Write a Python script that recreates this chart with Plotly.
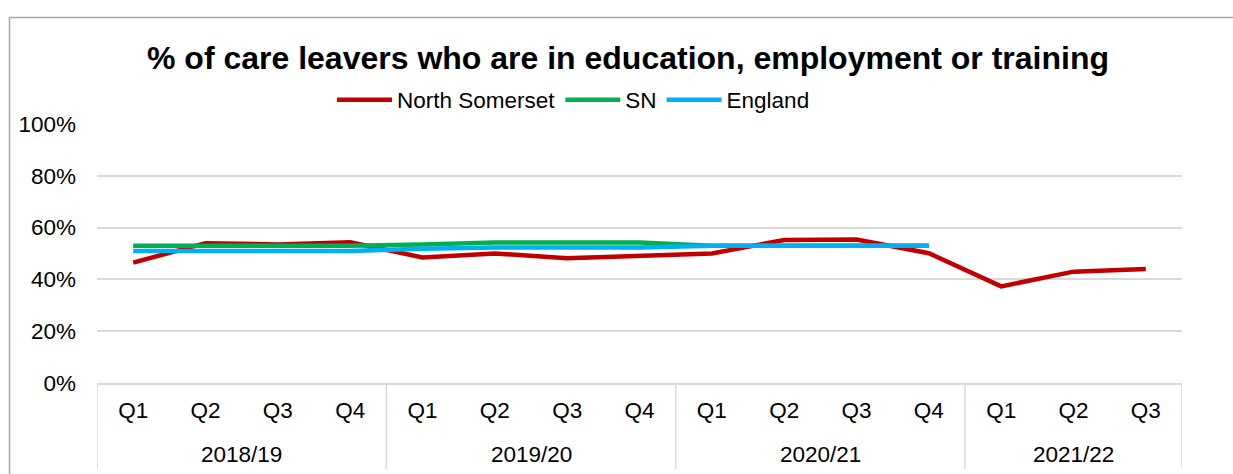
import plotly.graph_objects as go

# Reporting periods: financial year and quarter
years = ["2018/19"] * 4 + ["2019/20"] * 4 + ["2020/21"] * 4 + ["2021/22"] * 3
quarters = ["Q1", "Q2", "Q3", "Q4"] * 3 + ["Q1", "Q2", "Q3"]

# % of care leavers in education, employment or training
north_somerset = [46.5, 54.0, 53.5, 54.3, 48.5, 50.0, 48.2, 49.0, 50.0, 55.2, 55.4, 50.1, 37.3, 43.0, 44.0]
sn = [53.0, 53.0, 53.0, 53.0, 53.5, 54.2, 54.2, 54.2, 53.0, 53.0, 53.0, 53.0, None, None, None]
england = [51.0, 51.0, 51.0, 51.0, 51.8, 52.3, 52.3, 52.3, 53.0, 53.0, 53.0, 53.0, None, None, None]

y_ticks = [0, 20, 40, 60, 80, 100]
y_tick_text = ["0%", "20%", "40%", "60%", "80%", "100%"]

FONT = "Liberation Sans, Arial, sans-serif"
GRID = "#d9d9d9"
TEXT = "#000000"

# category positions along the x axis
pos = list(range(len(quarters)))

# financial-year groups: (label, first index, last index)
groups = []
for i, yr in enumerate(years):
    if groups and groups[-1][0] == yr:
        groups[-1][2] = i
    else:
        groups.append([yr, i, i])

series = [
    ("North Somerset", north_somerset, "#c00000"),
    ("SN", sn, "#00b050"),
    ("England", england, "#00b0f0"),
]

fig = go.Figure()
for name, values, colour in series:
    fig.add_trace(go.Scatter(
        x=pos,
        y=values,
        name=name,
        mode="lines",
        line=dict(color=colour, width=4.5),
        connectgaps=False,
    ))

W, H = 1233, 474
L, R, T, B = 97, 51, 124, 91
pw, ph = W - L - R, H - T - B

# outer chart border (left and top edges visible)
fig.add_shape(
    type="rect", xref="paper", yref="paper",
    x0=(9.5 - L) / pw, x1=(W + 10 - L) / pw,
    y0=-(B + 10) / ph, y1=(H - B - 17.5) / ph,
    line=dict(color="#a6a6a6", width=1.5),
    fillcolor="rgba(0,0,0,0)", layer="below",
)

# year dividers below the axis and year labels
divider_y = -(469 - (H - B)) / ph
year_label_y = -(455 - (H - B)) / ph
edges = [groups[0][1] - 0.5] + [g[2] + 0.5 for g in groups]
for e in edges:
    fig.add_shape(
        type="line", xref="x", yref="paper",
        x0=e, x1=e, y0=0, y1=divider_y,
        line=dict(color=GRID, width=1.5),
    )
for label, first, last in groups:
    fig.add_annotation(
        x=(first + last) / 2, xref="x",
        y=year_label_y, yref="paper",
        text=label, showarrow=False,
        xanchor="center", yanchor="middle",
        font=dict(family=FONT, size=22.5, color=TEXT),
    )

fig.update_layout(
    width=W, height=H,
    margin=dict(l=L, r=R, t=T, b=B),
    paper_bgcolor="white", plot_bgcolor="white",
    font=dict(family=FONT, size=22.5, color=TEXT),
    title=dict(
        text="<b>% of care leavers who are in education, employment or training</b>",
        font=dict(family=FONT, size=32, color=TEXT),
        x=628 / W, xref="container", xanchor="center",
        y=1 - 58 / H, yref="container", yanchor="middle",
    ),
    legend=dict(
        orientation="h",
        x=(332 - L) / pw, xanchor="left",
        y=1 + (T - 100) / ph, yanchor="middle",
        font=dict(family=FONT, size=22.5, color=TEXT),
        bgcolor="rgba(0,0,0,0)",
        itemwidth=55,
        traceorder="normal",
    ),
    showlegend=True,
)

fig.update_xaxes(
    range=[pos[0] - 0.5, pos[-1] + 0.5],
    tickvals=pos, ticktext=quarters,
    showline=True, linecolor=GRID, linewidth=1.5,
    showgrid=False, zeroline=False,
    ticks="",
    ticklabelstandoff=6,
    tickfont=dict(family=FONT, size=22.5, color=TEXT),
)

fig.update_yaxes(
    range=[0, 100],
    tickvals=y_ticks, ticktext=y_tick_text,
    showgrid=True, gridcolor=GRID, gridwidth=1.5,
    zeroline=False, showline=False, ticks="",
    ticklabelstandoff=20,
    tickfont=dict(family=FONT, size=22.5, color=TEXT),
)

fig.write_html("out.html")
